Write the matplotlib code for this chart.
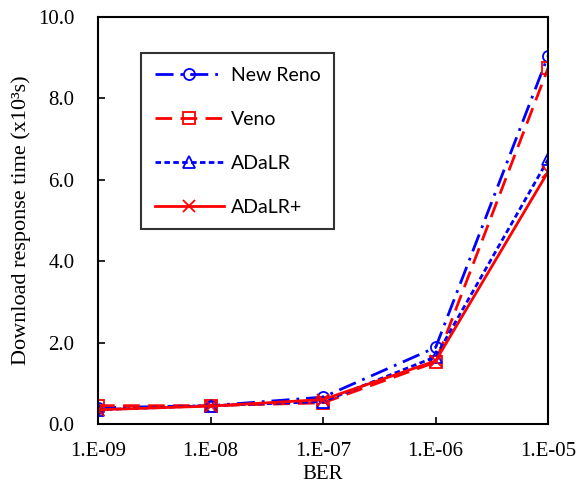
import matplotlib

matplotlib.use("Agg")
import matplotlib.pyplot as plt

ber_labels = ["1.E-09", "1.E-08", "1.E-07", "1.E-06", "1.E-05"]
new_reno = [0.40, 0.45, 0.66, 1.88, 9.05]
veno = [0.45, 0.45, 0.52, 1.52, 8.75]
adalr = [0.35, 0.45, 0.55, 1.65, 6.50]
adalr_plus = [0.35, 0.44, 0.60, 1.55, 6.20]
y_ticks = [0, 2, 4, 6, 8, 10]

serif = ["Liberation Serif", "DejaVu Serif"]

fig = plt.figure(figsize=(5.77, 4.86), dpi=100)
ax = fig.add_axes([0.170, 0.1276, 0.780, 0.8374])
x = range(len(ber_labels))

marker_kw = dict(ms=8, mew=1.3)
ax.plot(x, new_reno, color="#0000ff", lw=2, dashes=(6.5, 2.5, 1, 2.5), marker="o",
        mfc="none", mec="#0000ff", label="New Reno", **marker_kw)
ax.plot(x, veno, color="#ff0000", lw=2, dashes=(6, 3), marker="s",
        mfc="none", mec="#ff0000", label="Veno", **marker_kw)
ax.plot(x, adalr, color="#0000ff", lw=2, dashes=(2, 1.2), marker="^",
        mfc="none", mec="#0000ff", label="ADaLR", **marker_kw)
ax.plot(x, adalr_plus, color="#ff0000", lw=2, marker="x",
        mec="#ff0000", label="ADaLR+", **marker_kw)

ax.set_xlim(0, len(ber_labels) - 1)
ax.set_ylim(0, 10)
ax.set_xticks(list(x))
ax.set_xticklabels(ber_labels, fontfamily=serif, fontsize=15)
ax.set_yticks(y_ticks)
ax.set_yticklabels([f"{v:.1f}" for v in y_ticks], fontfamily=serif, fontsize=15)
ax.tick_params(direction="in", length=5, width=1.2)
ax.tick_params(axis="x", pad=13)
ax.tick_params(axis="y", pad=17)
for s in ax.spines.values():
    s.set_linewidth(1.5)

ax.set_xlabel("BER", fontfamily=serif, fontsize=15, labelpad=3)
ax.set_ylabel("Download response time (x10³s)", fontfamily=serif, fontsize=16, labelpad=5)

leg = ax.legend(loc="upper left", bbox_to_anchor=(0.0956, 0.9115), prop={"family": "Lato", "size": 14},
                frameon=True, fancybox=False, edgecolor="black", borderpad=0.7,
                labelspacing=1.39, handlelength=3.55, handletextpad=0.36, borderaxespad=0)
leg.get_frame().set_linewidth(1.5)

fig.savefig("out.png", dpi=100)
plt.close(fig)
